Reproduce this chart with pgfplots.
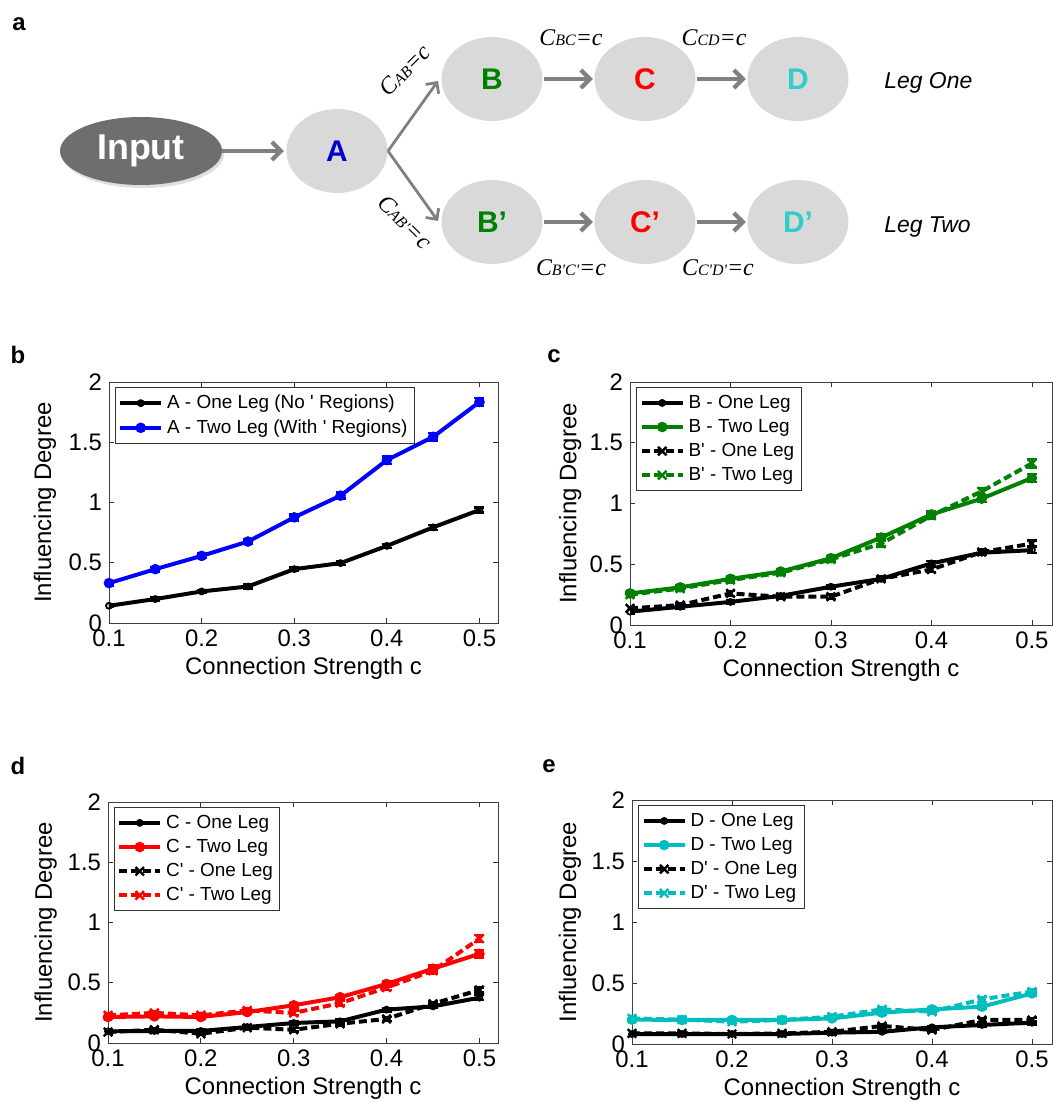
\documentclass[border=0pt]{standalone}
\usepackage{fontspec}
\setmainfont{Liberation Sans}
\newfontfamily\timesf{Liberation Serif}
\usepackage{pgfplots}
\usepackage{pgfplotstable}
\pgfplotsset{compat=1.18}
\usetikzlibrary{arrows.meta,shadows,shapes.geometric}
\definecolor{mgreen}{RGB}{0,128,0}
\definecolor{mcyan}{RGB}{0,190,190}
\definecolor{mblue}{RGB}{0,0,255}
\definecolor{mred}{RGB}{255,0,0}
\definecolor{nodegray}{RGB}{217,217,217}
\definecolor{inputgray}{RGB}{110,110,110}
\definecolor{arrowgray}{RGB}{128,128,128}
\definecolor{letblue}{RGB}{0,0,200}
\definecolor{letgreen}{RGB}{0,128,0}
\definecolor{letcyan}{RGB}{51,204,204}

\pgfplotstableread{
x    one   e1    two   e2
0.10 0.143 0.012 0.331 0.020
0.15 0.199 0.012 0.447 0.020
0.20 0.262 0.012 0.557 0.020
0.25 0.303 0.015 0.676 0.022
0.30 0.447 0.015 0.877 0.025
0.35 0.497 0.015 1.057 0.025
0.40 0.640 0.018 1.352 0.030
0.45 0.794 0.020 1.545 0.030
0.50 0.938 0.020 1.834 0.035
}\tabA

\pgfplotstableread{
x     bo    ebo   bt    ebt   po    epo   pt    ept
0.10  0.110 0.015 0.260 0.015 0.137 0.015 0.250 0.015
0.15  0.150 0.015 0.310 0.015 0.164 0.015 0.300 0.015
0.20  0.190 0.015 0.380 0.020 0.260 0.020 0.370 0.020
0.25  0.240 0.015 0.440 0.020 0.233 0.015 0.430 0.020
0.30  0.315 0.015 0.550 0.020 0.233 0.020 0.540 0.020
0.35  0.380 0.020 0.720 0.025 0.380 0.020 0.670 0.025
0.40  0.507 0.020 0.910 0.025 0.457 0.020 0.900 0.025
0.45  0.595 0.020 1.040 0.030 0.600 0.020 1.100 0.030
0.50  0.616 0.025 1.210 0.035 0.670 0.025 1.330 0.035
}\tabB

\pgfplotstableread{
x     co    eco   ct    ect   po    epo   pt    ept
0.10  0.097 0.012 0.216 0.015 0.091 0.012 0.230 0.015
0.15  0.100 0.012 0.221 0.015 0.110 0.012 0.250 0.015
0.20  0.100 0.012 0.216 0.015 0.077 0.012 0.230 0.015
0.25  0.133 0.012 0.257 0.015 0.127 0.012 0.270 0.015
0.30  0.166 0.015 0.313 0.020 0.110 0.015 0.250 0.020
0.35  0.180 0.015 0.380 0.020 0.160 0.015 0.330 0.020
0.40  0.277 0.015 0.490 0.020 0.200 0.015 0.460 0.020
0.45  0.304 0.015 0.617 0.025 0.326 0.015 0.600 0.025
0.50  0.376 0.020 0.740 0.030 0.440 0.020 0.866 0.030
}\tabC

\pgfplotstableread{
x     do    edo   dt    edt   po    epo   pt    ept
0.10  0.082 0.010 0.200 0.012 0.087 0.010 0.210 0.012
0.15  0.082 0.010 0.197 0.012 0.087 0.010 0.200 0.012
0.20  0.082 0.010 0.197 0.012 0.082 0.010 0.183 0.012
0.25  0.082 0.010 0.197 0.012 0.087 0.010 0.197 0.012
0.30  0.093 0.010 0.210 0.012 0.100 0.010 0.224 0.012
0.35  0.100 0.012 0.257 0.015 0.148 0.012 0.284 0.015
0.40  0.137 0.012 0.284 0.015 0.115 0.012 0.265 0.015
0.45  0.156 0.012 0.306 0.015 0.197 0.015 0.366 0.020
0.50  0.175 0.015 0.415 0.020 0.197 0.015 0.430 0.020
}\tabD

\pgfplotsset{
  panel/.style={
    scale only axis,
    xmin=0.1, xmax=0.52, ymin=0, ymax=2,
    xtick={0.1,0.2,0.3,0.4,0.5},
    xticklabels={0.1,0.2,0.3,0.4,0.5},
    ytick={0,0.5,1,1.5,2},
    yticklabels={0,0.5,1,1.5,2},
    /pgf/number format/assume math mode=true,
    tick align=inside,
    major tick length=2.5bp,
    tick style={black!80, line width=0.4pt},
    axis line style={line width=0.5pt, black!75},
    ticklabel style={font=\fontsize{12}{12}\selectfont},
    label style={font=\fontsize{12}{14}\selectfont},
    xlabel={Connection Strength c},
    ylabel={Influencing Degree},
    legend style={font=\fontsize{9.5}{10}\selectfont, draw=black!80, line width=0.5pt,
      at={(axis description cs:0.015,0.978)}, anchor=north west, inner sep=1.5pt,
      row sep=0pt, cells={anchor=west}},
    legend cell align=left,
    legend image code/.code={\draw[mark repeat=2,mark phase=2,##1] plot coordinates {(0cm,0cm)(0.36cm,0cm)(0.72cm,0cm)};},
    every axis plot/.append style={line width=2pt},
    error bars/error bar style={solid, line width=1.2pt},
    error bars/error mark options={rotate=90, mark size=2.5pt, line width=1.2pt, solid},
  },
  sone/.style={black, solid, mark=o, mark size=1.5pt, mark options={solid, line width=0.9pt},
    error bars/.cd, y dir=both, y explicit},
  stwo/.style={#1, solid, mark=*, mark size=1.6pt, mark options={solid},
    error bars/.cd, y dir=both, y explicit},
  pone/.style={black, dash pattern=on 4bp off 2bp, mark=x, mark size=3pt, mark options={solid, line width=1.2pt},
    error bars/.cd, y dir=both, y explicit},
  ptwo/.style={#1, dash pattern=on 4bp off 2bp, mark=x, mark size=3pt, mark options={solid, line width=1.2pt},
    error bars/.cd, y dir=both, y explicit},
}

\begin{document}
\begin{tikzpicture}
\useasboundingbox (0,0) rectangle (530bp,-551bp);

% ---------- panel a: diagram ----------
\begin{scope}[x=0.5bp,y=-0.5bp]
\tikzset{
  circ/.style={ellipse, fill=nodegray, minimum width=50.5bp, minimum height=42bp, inner sep=0pt,
     font=\bfseries\fontsize{15}{15}\selectfont},
  arr/.style={arrowgray, line width=2.2bp, -{Straight Barb[length=4.5bp,width=9bp]}},
  arrt/.style={arrowgray, line width=1.4bp, -{Straight Barb[length=4bp,width=8bp]}},
  clab/.style={font=\timesf\itshape\fontsize{12}{12}\selectfont, inner sep=0pt},
}
\node[font=\bfseries\fontsize{12}{12}\selectfont] at (19,24) {a};
\node[ellipse, fill=inputgray, minimum width=81bp, minimum height=34bp, inner sep=0pt,
  drop shadow={opacity=0.25, shadow xshift=1bp, shadow yshift=-1.5bp},
  text=white, font=\bfseries\fontsize{18}{18}\selectfont] at (141,151) {Input};
\node[circ, text=letblue] at (337,151) {A};
\node[circ, text=letgreen] at (492,79) {B};
\node[circ, text=mred] at (645,79) {C};
\node[circ, text=letcyan] at (798,79) {D};
\node[circ, text=letgreen] at (492,222) {B’};
\node[circ, text=mred] at (645,222) {C’};
\node[circ, text=letcyan] at (798,222) {D’};
\draw[arr] (222,151) -- (284,151);
\draw[arrt] (388,151) -- (438,81);
\draw[arrt] (388,151) -- (438,221);
\draw[arr] (544,79) -- (593,79);
\draw[arr] (697,79) -- (746,79);
\draw[arr] (544,222) -- (593,222);
\draw[arr] (697,222) -- (746,222);
\node[clab, rotate=45] at (405,70) {C{\fontsize{8}{8}\selectfont AB}=c};
\node[clab, rotate=-45] at (405,222) {C{\fontsize{8}{8}\selectfont AB'}=c};
\node[clab] at (571,38) {C{\fontsize{8}{8}\selectfont BC}=c};
\node[clab] at (714,38) {C{\fontsize{8}{8}\selectfont CD}=c};
\node[clab] at (571,268) {C{\fontsize{8}{8}\selectfont B'C'}=c};
\node[clab] at (718,268) {C{\fontsize{8}{8}\selectfont C'D'}=c};
\node[font=\itshape\fontsize{11.5}{12}\selectfont, anchor=west, inner sep=0pt] at (884,83) {Leg One};
\node[font=\itshape\fontsize{11.5}{12}\selectfont, anchor=west, inner sep=0pt] at (884,227) {Leg Two};

\node[font=\bfseries\fontsize{12}{12}\selectfont] at (18,355) {b};
\node[font=\bfseries\fontsize{12}{12}\selectfont] at (554,356) {c};
\node[font=\bfseries\fontsize{12}{12}\selectfont] at (18,766) {d};
\node[font=\bfseries\fontsize{12}{12}\selectfont] at (549,766) {e};
\end{scope}

% ---------- panel b ----------
\begin{axis}[panel, at={(54.5bp,-311.5bp)}, anchor=south west, width=194.5bp, height=120.5bp,
  ylabel style={at={(axis description cs:-0.165,0.5)}, anchor=center},
  xlabel style={at={(axis description cs:0.5,-0.187)}, anchor=center}]
\addplot[sone] table[x=x, y=one, y error=e1] {\tabA};
\addlegendentry{A - One Leg (No \textquotesingle\ Regions)}
\addplot[stwo=mblue] table[x=x, y=two, y error=e2] {\tabA};
\addlegendentry{A - Two Leg (With \textquotesingle\ Regions)}
\end{axis}

% ---------- panel c ----------
\begin{axis}[panel, at={(315bp,-312.5bp)}, anchor=south west, width=211bp, height=121.5bp,
  ylabel style={at={(axis description cs:-0.142,0.5)}, anchor=center},
  xlabel style={at={(axis description cs:0.5,-0.185)}, anchor=center}]
\addplot[sone] table[x=x, y=bo, y error=ebo] {\tabB};
\addlegendentry{B - One Leg}
\addplot[stwo=mgreen] table[x=x, y=bt, y error=ebt] {\tabB};
\addlegendentry{B - Two Leg}
\addplot[pone] table[x=x, y=po, y error=epo] {\tabB};
\addlegendentry{B\textquotesingle\ - One Leg}
\addplot[ptwo=mgreen] table[x=x, y=pt, y error=ept] {\tabB};
\addlegendentry{B\textquotesingle\ - Two Leg}
\end{axis}

% ---------- panel d ----------
\begin{axis}[panel, at={(54bp,-521.5bp)}, anchor=south west, width=195bp, height=120.5bp,
  ylabel style={at={(axis description cs:-0.16,0.5)}, anchor=center},
  xlabel style={at={(axis description cs:0.5,-0.187)}, anchor=center}]
\addplot[sone] table[x=x, y=co, y error=eco] {\tabC};
\addlegendentry{C - One Leg}
\addplot[stwo=mred] table[x=x, y=ct, y error=ect] {\tabC};
\addlegendentry{C - Two Leg}
\addplot[pone] table[x=x, y=po, y error=epo] {\tabC};
\addlegendentry{C\textquotesingle\ - One Leg}
\addplot[ptwo=mred] table[x=x, y=pt, y error=ept] {\tabC};
\addlegendentry{C\textquotesingle\ - Two Leg}
\end{axis}

% ---------- panel e ----------
\begin{axis}[panel, at={(316bp,-522bp)}, anchor=south west, width=210bp, height=122bp,
  ylabel style={at={(axis description cs:-0.148,0.5)}, anchor=center},
  xlabel style={at={(axis description cs:0.5,-0.185)}, anchor=center}]
\addplot[sone] table[x=x, y=do, y error=edo] {\tabD};
\addlegendentry{D - One Leg}
\addplot[stwo=mcyan] table[x=x, y=dt, y error=edt] {\tabD};
\addlegendentry{D - Two Leg}
\addplot[pone] table[x=x, y=po, y error=epo] {\tabD};
\addlegendentry{D\textquotesingle\ - One Leg}
\addplot[ptwo=mcyan] table[x=x, y=pt, y error=ept] {\tabD};
\addlegendentry{D\textquotesingle\ - Two Leg}
\end{axis}
\end{tikzpicture}
\end{document}
